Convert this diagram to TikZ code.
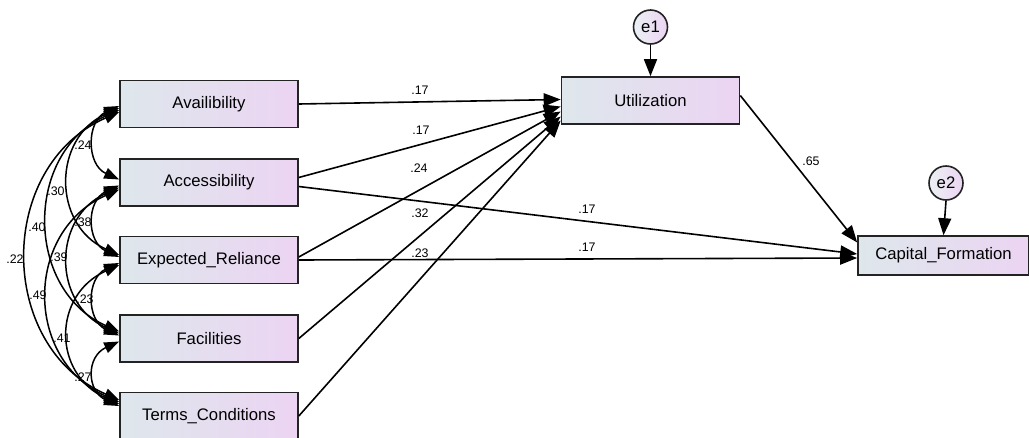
\documentclass[tikz,border=0pt]{standalone}
\usepackage{fontspec}
\setmainfont{Liberation Sans}
\usetikzlibrary{arrows.meta,shadings}

\definecolor{boxl}{RGB}{222,231,236}
\definecolor{boxr}{RGB}{236,212,243}
\definecolor{edge}{RGB}{35,35,35}

\begin{document}
\begin{tikzpicture}[x=1pt,y=-1pt,
  var/.style={draw=edge,line width=1.6pt,left color=boxl,right color=boxr,
    minimum width=178pt,minimum height=47pt,inner sep=0pt,
    font=\fontsize{16.7}{20}\selectfont},
  err/.style={circle,draw=edge,line width=1.6pt,left color=boxl!60!white,right color=boxr,
    minimum size=34pt,inner sep=0pt,font=\fontsize{16.7}{20}\selectfont},
  reg/.style={line width=1.6pt,-{Triangle[length=17pt,width=13pt]}},
  cov/.style={line width=1.5pt,{Triangle[length=15pt,width=11pt]}-{Triangle[length=15pt,width=11pt]}},
  lbl/.style={inner sep=0pt,font=\fontsize{12.4}{14}\selectfont}
]
\useasboundingbox (0,0) rectangle (1029,437);
\clip (0,0) rectangle (1029,437);

% observed variables
\node[var] (avail)  at (209,104)   {Availibility};
\node[var] (access) at (209,182.5) {Accessibility};
\node[var] (expect) at (209,260)   {Expected\_Reliance};
\node[var] (facil)  at (209,338.5) {Facilities};
\node[var] (terms)  at (209,416)   {Terms\_Conditions};

% endogenous variables and their errors
\node[var] (util) at (650.5,100.5) {Utilization};
\node[var,minimum width=171pt,minimum height=39pt] (capf) at (943.5,255.5) {Capital\_Formation};
\node[err] (e1) at (650.5,27)  {e1};
\node[err] (e2) at (946,183)   {e2};

% error terms
\draw[reg] (e1.south) -- (util.north);
\draw[reg] (e2.south) -- (capf.north);

% regression paths
\draw[reg] (avail.east) -- ([yshift=1pt]util.west);
\draw[reg] ([yshift=5pt]access.east) -- ([yshift=-6pt]util.west);
\draw[reg] ([yshift=3pt]expect.east) -- ([yshift=-11pt]util.west);
\draw[reg] (facil.east) -- ([yshift=-16pt]util.west);
\draw[reg] (terms.east) -- ([yshift=-20pt]util.west);
\draw[reg] ([yshift=-4pt]access.east) -- ([yshift=1.5pt]capf.west);
\draw[reg] ([yshift=0pt]expect.east) -- ([yshift=-2.5pt]capf.west);
\draw[reg] ([yshift=5pt]util.east) -- ([yshift=13pt]capf.west);

% covariances among the exogenous variables
\draw[cov] ([yshift=-2pt]avail.west) .. controls +(-33,15) and +(-33,-15) .. ([yshift=3pt]access.west);
\draw[cov] ([yshift=-3pt]access.west) .. controls +(-33,15) and +(-33,-15) .. ([yshift=3pt]expect.west);
\draw[cov] ([yshift=-3pt]expect.west) .. controls +(-33,15) and +(-33,-15) .. ([yshift=3pt]facil.west);
\draw[cov] ([yshift=-3pt]facil.west) .. controls +(-33,15) and +(-33,-15) .. ([yshift=10pt]terms.west);

\draw[cov] ([yshift=-4pt]avail.west) .. controls +(-67,30) and +(-67,-30) .. ([yshift=5pt]expect.west);
\draw[cov] ([yshift=-5pt]access.west) .. controls +(-67,30) and +(-67,-30) .. ([yshift=5pt]facil.west);
\draw[cov] ([yshift=-5pt]expect.west) .. controls +(-67,30) and +(-67,-30) .. ([yshift=12pt]terms.west);

\draw[cov] ([yshift=-6pt]avail.west) .. controls +(-95,42) and +(-95,-42) .. ([yshift=7pt]facil.west);
\draw[cov] ([yshift=-7pt]access.west) .. controls +(-95,42) and +(-95,-42) .. ([yshift=14pt]terms.west);

\draw[cov] ([yshift=-8pt]avail.west) .. controls +(-123,54) and +(-123,-54) .. ([yshift=16pt]terms.west);

% path coefficients
\node[lbl] (l1) at (420,90)  {.17};
\node[lbl] (l2) at (421,130) {.17};
\node[lbl] (l3) at (419,168) {.24};
\node[lbl] (l4) at (420,213) {.32};
\node[lbl] (l5) at (420,253) {.23};
\node[lbl] (l6) at (587,209) {.17};
\node[lbl] (l7) at (587,247) {.17};
\node[lbl] (l8) at (811,161) {.65};

% correlations
\node[lbl] (c1)  at (83,145)  {.24};
\node[lbl] (c2)  at (56,191)  {.30};
\node[lbl] (c3)  at (37,227)  {.40};
\node[lbl] (c4)  at (15,259)  {.22};
\node[lbl] (c5)  at (83,222)  {.38};
\node[lbl] (c6)  at (59,257)  {.39};
\node[lbl] (c7)  at (38,295)  {.49};
\node[lbl] (c8)  at (85,299)  {.23};
\node[lbl] (c9)  at (62,338)  {.41};
\node[lbl] (c10) at (83,377)  {.27};
\end{tikzpicture}
\end{document}
